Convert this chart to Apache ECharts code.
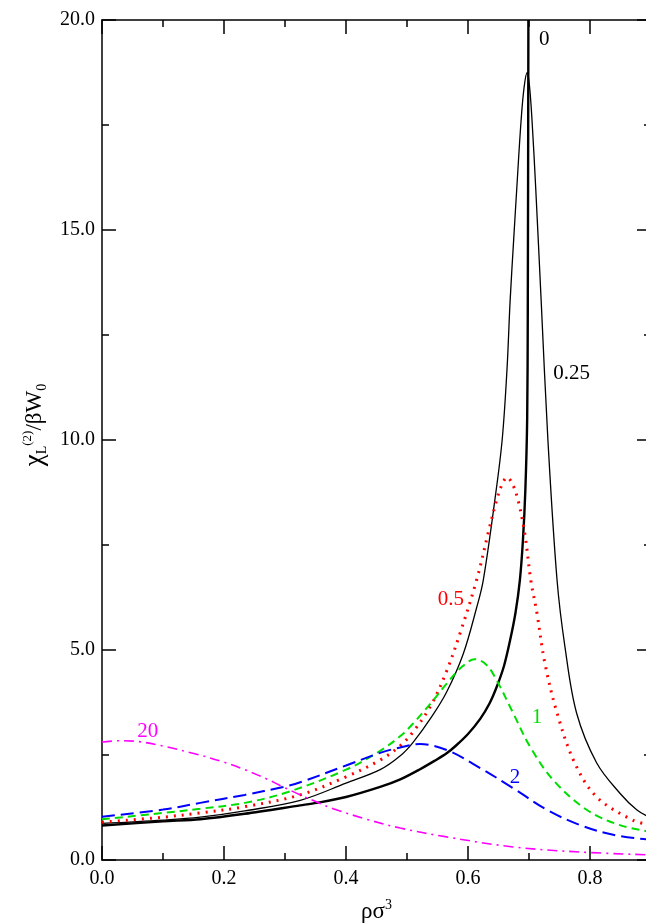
<!DOCTYPE html>
<html>
<head>
<meta charset="utf-8">
<script src="https://cdn.jsdelivr.net/npm/echarts@6/dist/echarts.min.js"></script>
<style>html,body{margin:0;padding:0;background:#fff;}#c{width:646px;height:923px;}</style>
</head>
<body>
<div id="c"></div>
<script>
// ---- data ----
const xTicks = [0.0, 0.2, 0.4, 0.6, 0.8];
const yTicks = [0.0, 5.0, 10.0, 15.0, 20.0];

const curve0 = [[0,0.82],[0.1,0.92],[0.161,0.97],[0.234,1.1],[0.325,1.3],[0.352,1.36],[0.4,1.5],[0.456,1.74],[0.489,1.92],[0.52,2.15],[0.545,2.36],[0.565,2.54],[0.58,2.72],[0.6,3.0],[0.62,3.36],[0.635,3.72],[0.647,4.12],[0.659,4.62],[0.669,5.23],[0.678,5.9],[0.685,6.66],[0.69,7.6],[0.694,8.8],[0.697,10.5],[0.698,13],[0.699,20]];
const curve025 = [[0,0.87],[0.1,0.95],[0.161,1.02],[0.234,1.17],[0.325,1.42],[0.4,1.83],[0.456,2.15],[0.489,2.48],[0.51,2.8],[0.54,3.4],[0.565,4.0],[0.592,4.9],[0.614,6.0],[0.625,6.66],[0.644,8.57],[0.656,10.0],[0.664,11.7],[0.669,13.3],[0.675,14.8],[0.68,16.0],[0.687,17.6],[0.692,18.4],[0.697,18.75],[0.701,18.4],[0.705,17.6],[0.711,16.0],[0.72,13.3],[0.731,10.0],[0.746,6.66],[0.759,5.07],[0.778,3.5],[0.811,2.31],[0.849,1.59],[0.877,1.19],[0.9,1.0]];
const curve05 = [[0,0.9],[0.1,1.02],[0.161,1.12],[0.234,1.27],[0.325,1.55],[0.4,1.98],[0.456,2.38],[0.489,2.72],[0.51,3.05],[0.54,3.7],[0.565,4.5],[0.587,5.4],[0.614,6.66],[0.633,7.78],[0.647,8.57],[0.656,8.95],[0.664,9.11],[0.673,8.95],[0.682,8.57],[0.693,7.78],[0.703,6.66],[0.713,5.88],[0.726,4.69],[0.746,3.5],[0.775,2.31],[0.811,1.5],[0.87,0.95],[0.9,0.83]];
const curve1 = [[0,0.97],[0.1,1.12],[0.161,1.22],[0.234,1.36],[0.305,1.62],[0.4,2.15],[0.456,2.6],[0.489,2.95],[0.51,3.25],[0.54,3.75],[0.565,4.2],[0.59,4.6],[0.611,4.78],[0.63,4.65],[0.647,4.28],[0.674,3.5],[0.702,2.69],[0.74,1.9],[0.795,1.19],[0.849,0.83],[0.9,0.67]];
const curve2 = [[0,1.03],[0.1,1.2],[0.161,1.36],[0.234,1.55],[0.297,1.74],[0.325,1.85],[0.4,2.25],[0.456,2.55],[0.489,2.68],[0.521,2.76],[0.565,2.62],[0.62,2.19],[0.674,1.71],[0.73,1.19],[0.784,0.83],[0.838,0.6],[0.9,0.48]];
const curve20 = [[0,2.81],[0.03,2.84],[0.06,2.82],[0.098,2.72],[0.152,2.53],[0.2,2.33],[0.234,2.15],[0.27,1.93],[0.297,1.74],[0.325,1.55],[0.352,1.38],[0.379,1.22],[0.434,0.97],[0.489,0.76],[0.565,0.55],[0.674,0.31],[0.784,0.19],[0.9,0.12]];

const curveLabels = ['0', '0.25', '0.5', '1', '2', '20'];
const labelAt = [[0.725,19.54],[0.770,11.59],[0.572,6.21],[0.713,3.40],[0.677,1.97],[0.075,3.05]];

// ---- chart ----
const FONT = '"Liberation Serif", "Times New Roman", serif';
const chart = echarts.init(document.getElementById('c'), null, {renderer: 'canvas'});

function mk(name, data, color, width, type, idx, smooth) {
  return {
    name: name, type: 'line', data: data, showSymbol: false, symbol: 'none',
    smooth: smooth, clip: true,
    lineStyle: {color: color, width: width, type: type, cap: 'butt'},
    markPoint: {
      symbol: 'circle', symbolSize: 1, silent: true,
      itemStyle: {color: 'rgba(0,0,0,0)'},
      data: [{coord: labelAt[idx], label: {show: true, position: 'inside', formatter: curveLabels[idx],
        color: color, fontFamily: FONT, fontSize: 21}}]
    },
    z: 2
  };
}

function axisCommon() {
  return {
    type: 'value',
    axisLine: {show: true, onZero: false, lineStyle: {color: '#000', width: 1.5}},
    axisTick: {show: true, inside: true, length: 14, lineStyle: {color: '#000', width: 1.5}},
    minorTick: {show: true, splitNumber: 2, length: 7, lineStyle: {color: '#000', width: 1.5}},
    splitLine: {show: false},
    minorSplitLine: {show: false}
  };
}

const option = {
  animation: false,
  backgroundColor: '#fff',
  grid: {left: 102, right: -5, top: 20, bottom: 63, containLabel: false, outerBoundsMode: 'none'},
  xAxis: [
    Object.assign(axisCommon(), {
      position: 'bottom', min: 0, max: 0.9, interval: 0.2,
      axisLabel: {show: true, margin: 9, color: '#000', fontFamily: FONT, fontSize: 20,
        showMaxLabel: false,
        formatter: v => xTicks.some(t => Math.abs(t - v) < 1e-6) ? v.toFixed(1) : ''},
      name: '{a|ρσ}{s|3}', nameLocation: 'middle', nameGap: 38,
      nameTextStyle: {rich: {
        a: {fontFamily: FONT, fontSize: 23, color: '#000'},
        s: {fontFamily: FONT, fontSize: 14, color: '#000', padding: [0, 0, 14, 0]}
      }}
    }),
    Object.assign(axisCommon(), {
      position: 'top', min: 0, max: 0.9, interval: 0.2, axisLabel: {show: false}
    })
  ],
  yAxis: [
    Object.assign(axisCommon(), {
      position: 'left', min: 0, max: 20, interval: 5,
      axisLabel: {show: true, margin: 7, color: '#000', fontFamily: FONT, fontSize: 20,
        formatter: v => yTicks.some(t => Math.abs(t - v) < 1e-6) ? v.toFixed(1) : ''},
      name: '{c|χ}{sb|L}{sp|(2)}{n|/βW}{sb|0}', nameLocation: 'middle', nameGap: 50, nameRotate: 90,
      nameTextStyle: {padding: [0, 0, 0, 30], rich: {
        c: {fontFamily: FONT, fontSize: 27, color: '#000'},
        n: {fontFamily: FONT, fontSize: 23, color: '#000'},
        sb: {fontFamily: FONT, fontSize: 14, color: '#000', padding: [14, 0, 0, 0]},
        sp: {fontFamily: FONT, fontSize: 13, color: '#000', padding: [0, 0, 16, 0]}
      }}
    }),
    Object.assign(axisCommon(), {
      position: 'right', min: 0, max: 20, interval: 5, axisLabel: {show: false}
    })
  ],
  series: [
    mk('0', curve0, '#000000', 2.4, 'solid', 0, 0.3),
    mk('0.25', curve025, '#000000', 1.3, 'solid', 1, 0.35),
    mk('0.5', curve05, '#ff0000', 3, [2, 6], 2, 0.35),
    mk('1', curve1, '#00dd00', 2, [8, 5], 3, 0.35),
    mk('2', curve2, '#0000ff', 2, [13, 6], 4, 0.35),
    mk('20', curve20, '#ff00ff', 1.6, [10, 5, 2, 5], 5, 0.35)
  ]
};
chart.setOption(option);
</script>
</body>
</html>
